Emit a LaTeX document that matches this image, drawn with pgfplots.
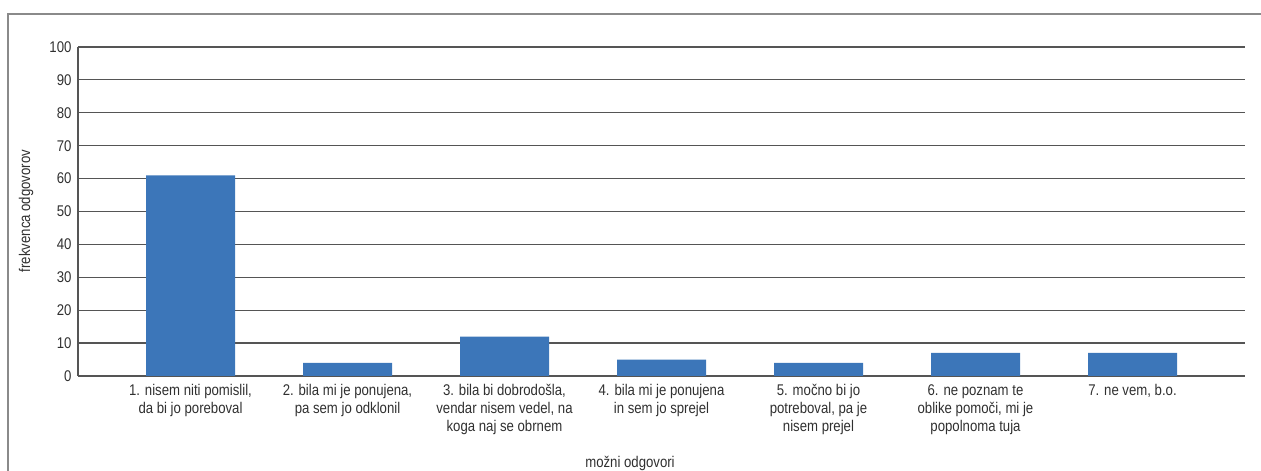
\documentclass[border=0pt]{standalone}
\usepackage{fontspec}
\setmainfont{Liberation Sans}[FakeStretch=0.85]
\usepackage{pgfplots}
\pgfplotsset{compat=1.18}
\definecolor{barblue}{HTML}{3C76B9}
\definecolor{gridc}{HTML}{555555}
\definecolor{txt}{HTML}{303030}
\definecolor{framec}{HTML}{8A8A8A}
\newcommand{\lf}{\fontsize{15.5}{18}\selectfont}
\begin{document}
\begin{tikzpicture}[x=1pt,y=1pt]
\path[use as bounding box] (0,0) rectangle (1261,471);
\draw[color=framec, line width=1.3pt] (1261,457) -- (8,457) -- (8,-1);
\begin{axis}[
  at={(78pt,95pt)}, anchor=south west,
  scale only axis, width=1167pt, height=329pt,
  xmin=0.2834, xmax=7.7166, ymin=0, ymax=100,
  ytick={0,10,...,100},
  xtick={1,2,3,4,5,6,7},
  xticklabels={
    {1. nisem niti pomislil,\\da bi jo poreboval},
    {2. bila mi je ponujena,\\pa sem jo odklonil},
    {3. bila bi dobrodošla,\\vendar nisem vedel, na\\koga naj se obrnem},
    {4. bila mi je ponujena\\in sem jo sprejel},
    {5. močno bi jo\\potreboval, pa je\\nisem prejel},
    {6. ne poznam te\\oblike pomoči, mi je\\popolnoma tuja},
    {7. ne vem, b.o.}},
  axis x line*=bottom, axis y line*=left,
  axis line style={gridc, line width=1.2pt, -},
  ymajorgrids, major grid style={gridc, line width=1.2pt},
  major tick length=0pt, tick style={draw=none},
  /pgf/number format/assume math mode=true,
  yticklabel style={font=\lf, text=txt, xshift=-3pt},
  xticklabel style={font=\lf, text=txt, align=center, anchor=north, yshift=-5pt},
  clip=false,
]
\addplot[ybar, bar width=89pt, fill=barblue, draw=none] coordinates {
  (1,61) (2,4) (3,12) (4,5) (5,4) (6,7) (7,7)
};
\end{axis}
\node[font=\lf, text=txt, rotate=90] at (26,260) {frekvenca odgovorov};
\node[font=\lf, text=txt] at (630,8) {možni odgovori};
\end{tikzpicture}
\end{document}
